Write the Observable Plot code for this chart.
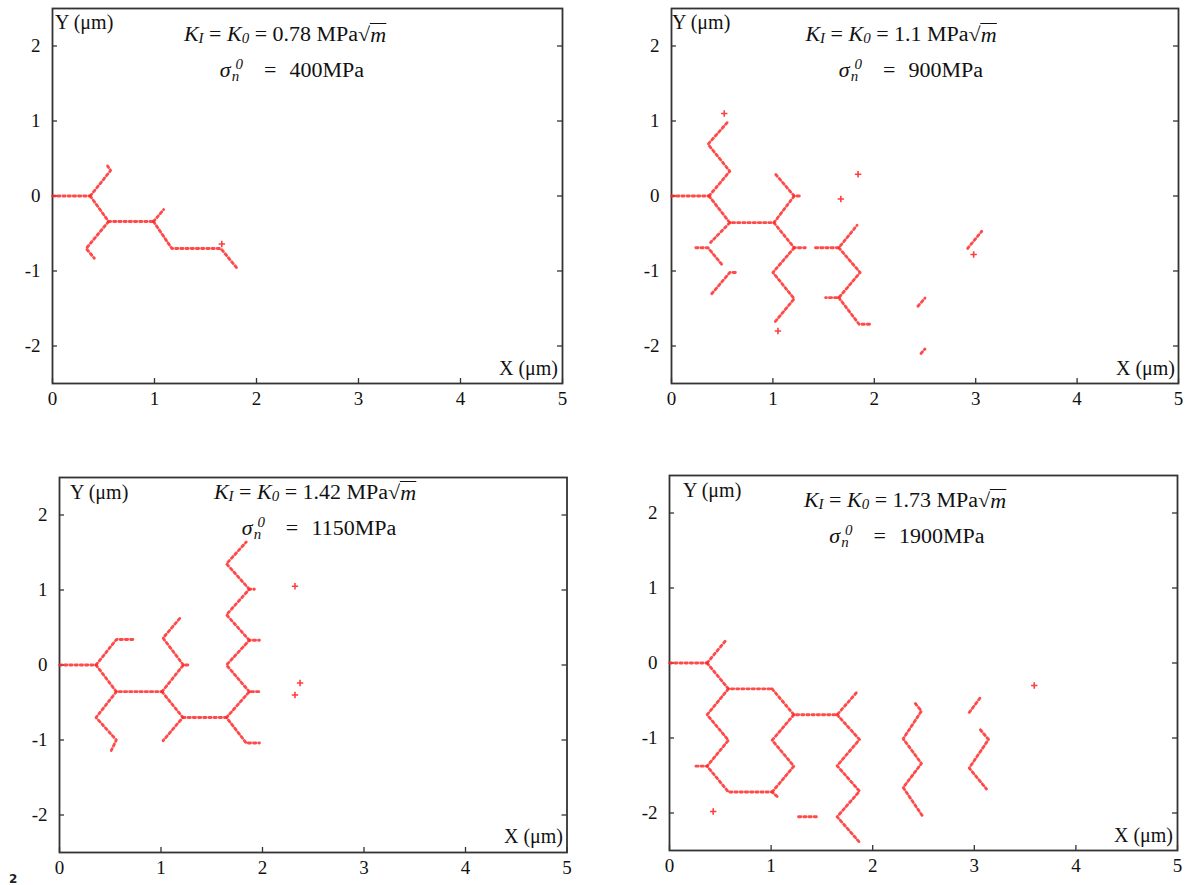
<!DOCTYPE html>
<html>
<head>
<meta charset="utf-8">
<script src="https://cdn.jsdelivr.net/npm/d3@7"></script>
<script src="https://cdn.jsdelivr.net/npm/@observablehq/plot@0.6"></script>
<style>
  html, body { margin: 0; padding: 0; background: #fff; }
  #page { position: relative; width: 1189px; height: 885px; overflow: hidden; background: #fff; font-family: "Liberation Serif", "DejaVu Serif", serif; color: #111; }
  .panel { position: absolute; }
  .txt { position: absolute; white-space: nowrap; font-size: 20px; line-height: 1; transform: translate(-50%, -50%) scaleX(1.1); display: flex; align-items: center; }
  .lbl { position: absolute; white-space: nowrap; font-size: 20px; line-height: 1; transform: translateY(-50%); }
  .lbl.r { transform: translate(-100%, -50%); }
  .sub { font-size: 0.68em; font-style: italic; position: relative; top: 0.35em; }
  .stack { display: flex; flex-direction: column; font-size: 0.68em; font-style: italic; line-height: 0.9; margin: 0 1px 0 1px; position: relative; top: 0.05em; }
  .stack .up { padding-left: 0.25em; }
  .ov { border-top: 1px solid #111; padding-top: 1px; font-style: italic; line-height: 1; }
  .eq2 { margin-left: 0.9em; margin-right: 0.6em; }
  .stray { position: absolute; left: 9px; top: 872px; font-family: "DejaVu Sans", sans-serif; font-size: 12px; font-weight: bold; color: #222; }
</style>
</head>
<body>
<div id="page"></div>
<script>
// ---------- data ----------
const xTicks = [0, 1, 2, 3, 4, 5];
const yTicks = [-2, -1, 0, 1, 2];

const kValues = ["0.78", "1.1", "1.42", "1.73"];
const sigmaValues = ["400", "900", "1150", "1900"];

// Panel 1 crack paths (vertices, µm)
const p1Paths = [
  [[0.0, 0], [0.37, 0]],
  [[0.37, 0], [0.57, 0.34], [0.54, 0.40]],
  [[0.37, 0], [0.55, -0.34], [0.99, -0.34]],
  [[0.55, -0.34], [0.33, -0.70], [0.41, -0.83]],
  [[0.99, -0.34], [1.09, -0.18]],
  [[0.99, -0.34], [1.17, -0.70], [1.65, -0.70], [1.82, -0.98]]
];
const p1Dots = [[1.66, -0.64]];

// Panel 2 crack paths
const p2Paths = [
  [[0.0, 0], [0.37, 0]],
  [[0.37, 0], [0.575, 0.33], [0.36, 0.69], [0.55, 0.98]],
  [[0.37, 0], [0.575, -0.356], [1.01, -0.356]],
  [[0.575, -0.356], [0.385, -0.62]],
  [[0.24, -0.69], [0.36, -0.69], [0.50, -0.92]],
  [[0.63, -1.02], [0.575, -1.02], [0.38, -1.33]],
  [[1.01, -0.356], [1.21, 0], [1.27, 0]],
  [[1.21, 0], [1.02, 0.30]],
  [[1.01, -0.356], [1.21, -0.69], [1.32, -0.69]],
  [[1.21, -0.69], [1.00, -1.02], [1.21, -1.37], [1.02, -1.68]],
  [[1.42, -0.69], [1.65, -0.69], [1.83, -0.39]],
  [[1.65, -0.69], [1.86, -1.02], [1.65, -1.356], [1.52, -1.356]],
  [[1.65, -1.356], [1.85, -1.71], [1.96, -1.71]],
  [[2.92, -0.70], [3.06, -0.47]],
  [[2.43, -1.47], [2.50, -1.36]],
  [[2.46, -2.10], [2.50, -2.04]]
];
const p2Dots = [[0.52, 1.10], [1.05, -1.80], [1.67, -0.04], [1.84, 0.29], [2.98, -0.78]];

// Panel 3 crack paths
const p3Paths = [
  [[0.0, 0], [0.36, 0]],
  [[0.36, 0], [0.56, 0.34], [0.75, 0.34]],
  [[0.36, 0], [0.56, -0.356], [1.01, -0.356]],
  [[0.56, -0.356], [0.36, -0.70], [0.56, -1.0], [0.51, -1.14]],
  [[1.01, -0.356], [1.22, 0], [1.28, 0]],
  [[1.22, 0], [1.02, 0.36], [1.19, 0.63]],
  [[1.01, -0.356], [1.215, -0.70], [1.02, -1.01]],
  [[1.215, -0.70], [1.645, -0.70], [1.84, -1.04], [1.97, -1.04]],
  [[1.645, -0.70], [1.87, -0.356], [1.97, -0.356]],
  [[1.87, -0.356], [1.645, 0], [1.87, 0.33], [1.97, 0.33]],
  [[1.87, 0.33], [1.645, 0.67], [1.87, 1.01], [1.92, 1.01]],
  [[1.87, 1.01], [1.645, 1.35], [1.84, 1.64]]
];
const p3Dots = [[2.32, 1.05], [2.37, -0.24], [2.32, -0.40]];

// Panel 4 crack paths
const p4Paths = [
  [[0.0, 0], [0.37, 0]],
  [[0.37, 0], [0.56, 0.31]],
  [[0.37, 0], [0.58, -0.344], [1.01, -0.344]],
  [[1.01, -0.344], [1.224, -0.69], [1.65, -0.69], [1.85, -0.38]],
  [[1.65, -0.69], [1.87, -1.02], [1.65, -1.37], [1.87, -1.71], [1.65, -2.05], [1.87, -2.39]],
  [[0.58, -0.344], [0.37, -0.69], [0.58, -1.03], [0.37, -1.376], [0.58, -1.72], [1.01, -1.72], [1.06, -1.78]],
  [[0.26, -1.376], [0.37, -1.376]],
  [[1.224, -0.69], [1.01, -1.03], [1.224, -1.376], [1.01, -1.72]],
  [[1.27, -2.05], [1.45, -2.05]],
  [[2.42, -0.54], [2.48, -0.64], [2.30, -1.01], [2.48, -1.34], [2.30, -1.66], [2.50, -2.06]],
  [[2.95, -0.66], [3.06, -0.46]],
  [[3.06, -0.89], [3.14, -1.02], [2.95, -1.40], [3.12, -1.68]]
];
const p4Dots = [[0.43, -1.98], [3.59, -0.30]];

// ---------- layout ----------
const page = document.getElementById("page");
const panels = [
  {paths: p1Paths, dots: p1Dots, L: 52, R: 562, T: 7.5, B: 382.5,
   t1: [285, 34], t2: [292, 70], yl: [55, 22], xl: [558, 368]},
  {paths: p2Paths, dots: p2Dots, L: 671, R: 1178, T: 7.5, B: 382.5,
   t1: [901, 34], t2: [911, 70], yl: [672, 22], xl: [1175, 368]},
  {paths: p3Paths, dots: p3Dots, L: 59, R: 566.5, T: 476.5, B: 851.5,
   t1: [315, 492], t2: [319, 528], yl: [70, 492], xl: [563, 836]},
  {paths: p4Paths, dots: p4Dots, L: 669, R: 1177, T: 475, B: 850,
   t1: [905, 500], t2: [907, 536], yl: [683, 490], xl: [1173, 835]}
];

const ML = 50, MR = 10, MT = 10, MB = 32;
const red = "#ff2a2a";

panels.forEach((p, i) => {
  const fw = p.R - p.L, fh = p.B - p.T;
  const rows = p.paths.flatMap((path, j) => path.map(([x, y]) => ({path: j, x, y})));
  const svg = Plot.plot({
    width: fw + ML + MR,
    height: fh + MT + MB,
    marginLeft: ML, marginRight: MR, marginTop: MT, marginBottom: MB,
    x: {domain: [0, 5]},
    y: {domain: [-2.5, 2.5]},
    style: {fontFamily: "Liberation Serif, serif", fontSize: "19px", color: "#111", background: "transparent"},
    marks: [
      Plot.axisX({ticks: xTicks, tickSize: 0, tickPadding: 8, tickFormat: d => String(d), label: null, fontSize: 19}),
      Plot.axisY({ticks: yTicks, tickSize: 0, tickPadding: 12, tickFormat: d => String(d), label: null, fontSize: 19}),
      Plot.tickX(xTicks, {x: d => d, insetTop: fh - 5, stroke: "#333", strokeWidth: 1.3}),
      Plot.tickY(yTicks, {y: d => d, insetRight: fw - 5, stroke: "#333", strokeWidth: 1.3}),
      Plot.tickY(yTicks, {y: d => d, insetLeft: fw - 5, stroke: "#333", strokeWidth: 1.3}),
      Plot.frame({stroke: "#333", strokeWidth: 1.8}),
      Plot.line(rows, {x: "x", y: "y", z: "path", stroke: red, strokeWidth: 2.8, strokeDasharray: "2.3,2.9", strokeOpacity: 0.85}),
      Plot.dot(p.dots, {x: d => d[0], y: d => d[1], symbol: "plus", r: 2.2, stroke: red, strokeWidth: 1.6, strokeOpacity: 0.9})
    ]
  });
  svg.classList.add("panel");
  svg.style.left = (p.L - ML) + "px";
  svg.style.top = (p.T - MT) + "px";
  page.appendChild(svg);

  const t1 = document.createElement("div");
  t1.className = "txt";
  t1.style.left = p.t1[0] + "px"; t1.style.top = p.t1[1] + "px";
  t1.innerHTML = `<i>K</i><span class="sub">I</span><span>&nbsp;=&nbsp;</span><i>K</i><span class="sub">0</span><span>&nbsp;=&nbsp;${kValues[i]} MPa√</span><span class="ov">m</span>`;
  page.appendChild(t1);

  const t2 = document.createElement("div");
  t2.className = "txt";
  t2.style.left = p.t2[0] + "px"; t2.style.top = p.t2[1] + "px";
  t2.innerHTML = `<i>σ</i><span class="stack"><span class="up">0</span><span>n</span></span><span class="eq2">=</span><span>${sigmaValues[i]}MPa</span>`;
  page.appendChild(t2);

  const yl = document.createElement("div");
  yl.className = "lbl";
  yl.style.left = p.yl[0] + "px"; yl.style.top = p.yl[1] + "px";
  yl.textContent = "Y (μm)";
  page.appendChild(yl);

  const xl = document.createElement("div");
  xl.className = "lbl r";
  xl.style.left = p.xl[0] + "px"; xl.style.top = p.xl[1] + "px";
  xl.textContent = "X (μm)";
  page.appendChild(xl);
});

const stray = document.createElement("div");
stray.className = "stray";
stray.textContent = "2";
page.appendChild(stray);
</script>
</body>
</html>
